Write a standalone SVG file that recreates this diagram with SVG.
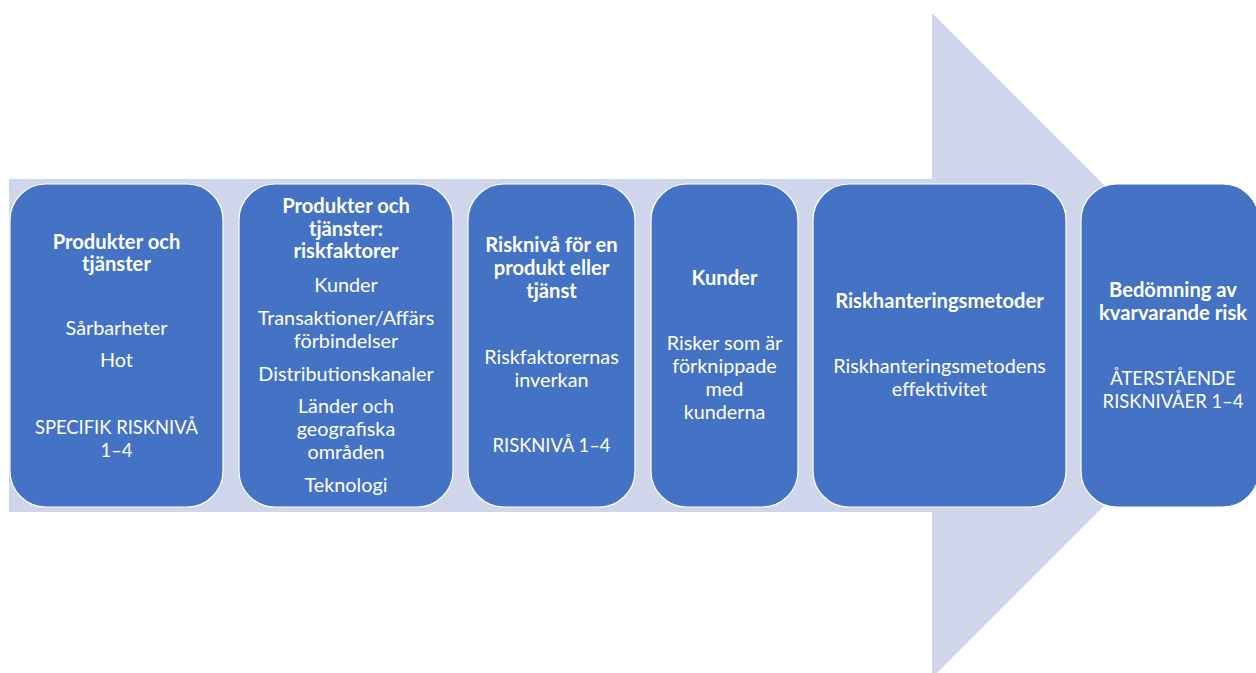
<svg xmlns="http://www.w3.org/2000/svg" width="1256" height="673" viewBox="0 0 1256 673">
  <style>
    .box { fill: #4472C4; stroke: #FFFFFF; stroke-width: 1.2; }
    .t { font-family: Lato, "Liberation Sans", Arial, sans-serif; font-size: 19.8px; fill: #FFFFFF; text-anchor: middle; }
    .b { font-weight: bold; font-size: 20.2px; }
    .u { font-size: 18.4px; }
  </style>
  <rect width="1256" height="673" fill="#FFFFFF"/>

  <!-- background process arrow -->
  <g id="process-arrow">
    <polygon points="9,179 932,179 932,13 1264.5,345.5 932,678 932,512 9,512" fill="#CFD5EA"/>
  </g>

  <g id="node-produkter">
    <rect class="box" x="10" y="184" width="213" height="323" rx="36" ry="36"/>
    <text class="t b" x="116.5" y="249">Produkter och</text>
    <text class="t b" x="116.5" y="271">tjänster</text>
    <text class="t" x="116.5" y="335">Sårbarheter</text>
    <text class="t" x="116.5" y="367">Hot</text>
    <text class="t u" x="116.5" y="434">SPECIFIK RISKNIVÅ</text>
    <text class="t u" x="116.5" y="457">1–4</text>
  </g>

  <g id="node-riskfaktorer">
    <rect class="box" x="239" y="184" width="214" height="323" rx="36" ry="36"/>
    <text class="t b" x="346" y="213">Produkter och</text>
    <text class="t b" x="346" y="236">tjänster:</text>
    <text class="t b" x="346" y="258">riskfaktorer</text>
    <text class="t" x="346" y="292">Kunder</text>
    <text class="t" x="346" y="325">Transaktioner/Affärs</text>
    <text class="t" x="346" y="348">förbindelser</text>
    <text class="t" x="346" y="381">Distributionskanaler</text>
    <text class="t" x="346" y="413">Länder och</text>
    <text class="t" x="346" y="436">geografiska</text>
    <text class="t" x="346" y="459">områden</text>
    <text class="t" x="346" y="492">Teknologi</text>
  </g>

  <g id="node-riskniva">
    <rect class="box" x="468" y="184" width="167" height="323" rx="36" ry="36"/>
    <text class="t b" x="551.5" y="252">Risknivå för en</text>
    <text class="t b" x="551.5" y="275">produkt eller</text>
    <text class="t b" x="551.5" y="298">tjänst</text>
    <text class="t" x="551.5" y="364">Riskfaktorernas</text>
    <text class="t" x="551.5" y="387">inverkan</text>
    <text class="t u" x="551.5" y="452">RISKNIVÅ 1–4</text>
  </g>

  <g id="node-kunder">
    <rect class="box" x="651" y="184" width="147" height="323" rx="36" ry="36"/>
    <text class="t b" x="724.5" y="285">Kunder</text>
    <text class="t" x="724.5" y="350">Risker som är</text>
    <text class="t" x="724.5" y="373">förknippade</text>
    <text class="t" x="724.5" y="396">med</text>
    <text class="t" x="724.5" y="419">kunderna</text>
  </g>

  <g id="node-riskhantering">
    <rect class="box" x="813" y="184" width="253" height="323" rx="36" ry="36"/>
    <text class="t b" x="939.5" y="308">Riskhanteringsmetoder</text>
    <text class="t" x="939.5" y="373">Riskhanteringsmetodens</text>
    <text class="t" x="939.5" y="396">effektivitet</text>
  </g>

  <g id="node-kvarvarande">
    <rect class="box" x="1081" y="184" width="178" height="323" rx="36" ry="36"/>
    <text class="t b" x="1173" y="297">Bedömning av</text>
    <text class="t b" x="1173" y="320">kvarvarande risk</text>
    <text class="t u" x="1173" y="385">ÅTERSTÅENDE</text>
    <text class="t u" x="1173" y="408">RISKNIVÅER 1–4</text>
  </g>
</svg>
